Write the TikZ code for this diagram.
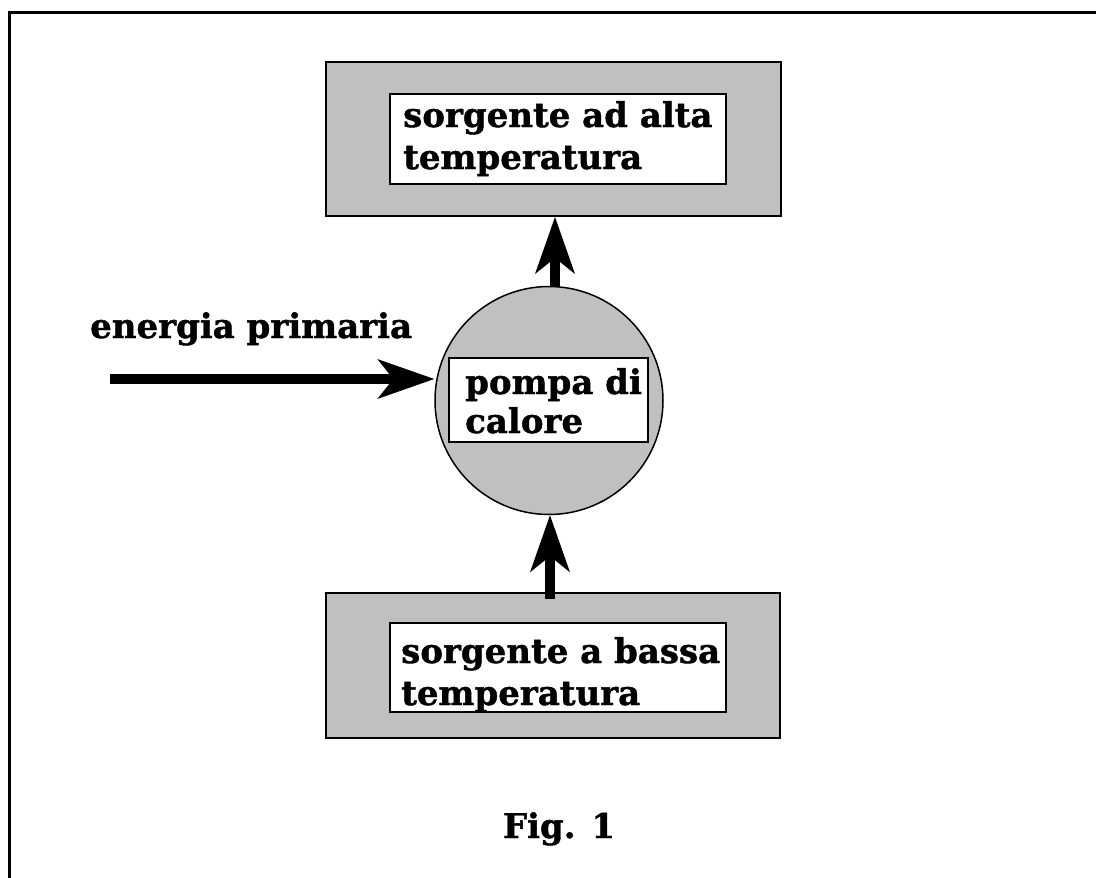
\documentclass[tikz,border=0pt]{standalone}
\usepackage{fontspec}
\setmainfont{DejaVu Serif}[BoldFeatures={FakeBold=1.2}]
\usetikzlibrary{arrows.meta}
\definecolor{boxgray}{RGB}{192,192,192}
\begin{document}
\begin{tikzpicture}[x=1pt,y=-1pt,
  graybox/.style={draw, line width=2pt, fill=boxgray, inner sep=0pt},
  whitebox/.style={draw, line width=2pt, fill=white, inner sep=0pt},
  lbl/.style={inner sep=0pt, align=left, font=\bfseries\fontsize{34}{42}\selectfont},
  fatarrow/.style={line width=10pt, -{Stealth[length=57pt,width=40pt,inset=16pt,line width=0pt]}}]
\useasboundingbox (0,0) rectangle (1096,878);
\fill[white] (0,0) rectangle (1096,878);
\draw[line width=3pt] (1096,12) -- (9,12) -- (9,878);

% hot source
\node[graybox, minimum width=455pt, minimum height=154pt] (hot) at (553.5,139) {};
\node[whitebox, minimum width=336pt, minimum height=90pt] (hotin) at (558,139) {};
\node[lbl, anchor=base west] (hottext) at (403,169) {sorgente ad alta\\temperatura};

% heat pump
\node[graybox, circle, minimum size=228pt, line width=1.5pt] (circ) at (549,400.5) {};
\node[whitebox, minimum width=199pt, minimum height=84pt] (heatin) at (548.5,400) {};
\node[lbl, anchor=base west, font=\bfseries\fontsize{34}{39}\selectfont] (heattext) at (465,433) {pompa di\\calore};

% cold source
\node[graybox, minimum width=454pt, minimum height=145pt] (cold) at (553,665.5) {};
\node[whitebox, minimum width=336pt, minimum height=89pt] (coldin) at (558,667.5) {};
\node[lbl, anchor=base west] (coldtext) at (401,705) {sorgente a bassa\\temperatura};

% labels
\node[lbl, anchor=base west] (energia) at (90,338) {energia primaria};
\node[lbl, anchor=base] (fig) at (559,838) {Fig. 1};

% arrows
\coordinate (src) at (110,379);
\draw[fatarrow] (src) -- (src -| circ.west);
\draw[fatarrow] ([xshift=6pt]circ.north) -- ([xshift=6pt]circ.north |- hot.south);
\draw[fatarrow] ([xshift=-3pt,yshift=-7pt]cold.north) -- ([xshift=-3pt]cold.north |- circ.south);
\end{tikzpicture}
\end{document}
